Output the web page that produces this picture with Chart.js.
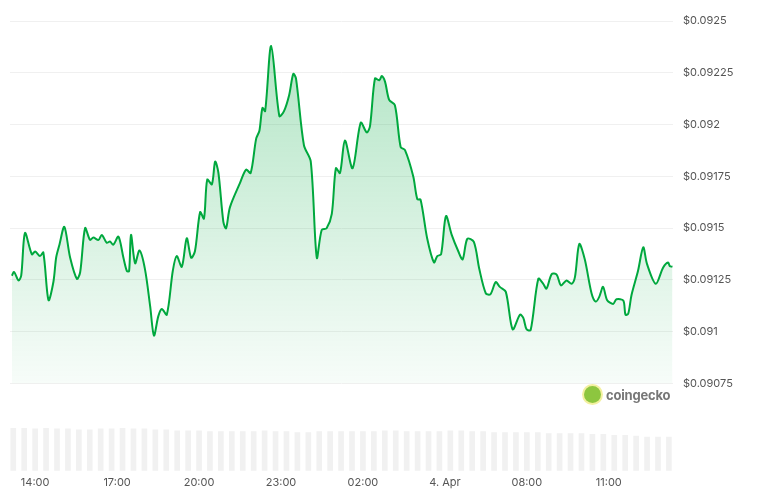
<!DOCTYPE html>
<html>
<head>
<meta charset="utf-8">
<script src="https://cdn.jsdelivr.net/npm/chart.js@4"></script>
<style>
  body { margin: 0; background: #fff; font-family: Inter, "Noto Sans", sans-serif; }
  #wrap { position: relative; width: 763px; height: 494px; }
  #price { position: absolute; left: 0; top: 0; }
  #vol { position: absolute; left: 0; top: 400px; }
  #logo { position: absolute; left: 584px; top: 386px; display: flex; align-items: center; gap: 5px; }
  #logo .dot { width: 17px; height: 17px; border-radius: 50%; background: #8dc63f; box-shadow: 0 0 0 2px #f3f0a0; }
  #logo span { font-weight: 700; font-size: 13px; color: #777; letter-spacing: -0.2px; }
</style>
</head>
<body>
<div id="wrap">
  <canvas id="price" width="763" height="400"></canvas>
  <canvas id="vol" width="763" height="94"></canvas>
  <div id="logo"><div class="dot"></div><span>coingecko</span></div>
</div>
<script>
"use strict";

// hours since 3 Apr 00:00
const hours = [13.15, 13.23, 13.39, 13.49, 13.63, 13.88, 14.0, 14.18, 14.30, 14.49, 14.67, 14.77, 14.89, 15.07, 15.28, 15.53, 15.65, 15.83, 16.01, 16.13, 16.32, 16.44, 16.62, 16.74, 16.86, 17.05, 17.23, 17.36, 17.44, 17.51, 17.66, 17.82, 18.02, 18.21, 18.35, 18.51, 18.64, 18.82, 19.04, 19.18, 19.37, 19.55, 19.71, 19.85, 20.04, 20.18, 20.30, 20.47, 20.59, 20.71, 20.89, 20.99, 21.13, 21.50, 21.72, 21.89, 22.09, 22.21, 22.32, 22.42, 22.64, 22.94, 23.11, 23.30, 23.45, 23.55, 23.84, 24.09, 24.31, 24.49, 24.67, 24.86, 25.01, 25.16, 25.34, 25.62, 25.92, 26.14, 26.26, 26.44, 26.60, 26.69, 26.81, 26.96, 27.17, 27.38, 27.54, 27.84, 27.99, 28.11, 28.35, 28.60, 28.72, 28.86, 29.04, 29.25, 29.49, 29.65, 29.82, 30.06, 30.26, 30.50, 30.67, 30.86, 31.01, 31.23, 31.48, 31.75, 31.87, 31.99, 32.14, 32.42, 32.60, 32.72, 32.91, 33.09, 33.25, 33.45, 33.64, 33.76, 33.92, 34.12, 34.37, 34.52, 34.65, 34.79, 34.94, 35.16, 35.28, 35.53, 35.61, 35.71, 35.83, 36.07, 36.26, 36.40, 36.72, 36.99, 37.17, 37.23, 37.33];

const prices = [0.09127, 0.091288, 0.091247, 0.09127, 0.091476, 0.091373, 0.091387, 0.091365, 0.091382, 0.091152, 0.091241, 0.091358, 0.09142, 0.091506, 0.091358, 0.091255, 0.091288, 0.0915, 0.091443, 0.091454, 0.091443, 0.091467, 0.091429, 0.091435, 0.09142, 0.091459, 0.091358, 0.091292, 0.091292, 0.091467, 0.09133, 0.091392, 0.091302, 0.091123, 0.090981, 0.091075, 0.091109, 0.091082, 0.091294, 0.091365, 0.091313, 0.091451, 0.091357, 0.091388, 0.091577, 0.091546, 0.091734, 0.091711, 0.091821, 0.091766, 0.09153, 0.091499, 0.0916, 0.091718, 0.091782, 0.091766, 0.091931, 0.09197, 0.09208, 0.092065, 0.092379, 0.092041, 0.092065, 0.092143, 0.092245, 0.092222, 0.0919, 0.091821, 0.091357, 0.091491, 0.091499, 0.091569, 0.091789, 0.091766, 0.091923, 0.091789, 0.092009, 0.091962, 0.091994, 0.092222, 0.092214, 0.092234, 0.092206, 0.092119, 0.092093, 0.091892, 0.091876, 0.09175, 0.09164, 0.091637, 0.091451, 0.091334, 0.091365, 0.091373, 0.091558, 0.091467, 0.091388, 0.091349, 0.091448, 0.091433, 0.091302, 0.091184, 0.091181, 0.091239, 0.091216, 0.091192, 0.091011, 0.091082, 0.091066, 0.091011, 0.091008, 0.091255, 0.091231, 0.091208, 0.091278, 0.091275, 0.091223, 0.091247, 0.091231, 0.091263, 0.091423, 0.091349, 0.091184, 0.091145, 0.091168, 0.091216, 0.091152, 0.091134, 0.091156, 0.09115, 0.091082, 0.091086, 0.091176, 0.091294, 0.091407, 0.091326, 0.091231, 0.09131, 0.091334, 0.091317, 0.091313];

const volHours = [13.2, 13.6, 14.0, 14.4, 14.8, 15.2, 15.6, 16.0, 16.4, 16.8, 17.2, 17.6, 18.0, 18.4, 18.8, 19.2, 19.6, 20.0, 20.4, 20.8, 21.2, 21.6, 22.0, 22.4, 22.8, 23.2, 23.6, 24.0, 24.4, 24.8, 25.2, 25.6, 26.0, 26.4, 26.8, 27.2, 27.6, 28.0, 28.4, 28.8, 29.2, 29.6, 30.0, 30.4, 30.8, 31.2, 31.6, 32.0, 32.4, 32.8, 33.2, 33.6, 34.0, 34.4, 34.8, 35.2, 35.6, 36.0, 36.4, 36.8, 37.2];
const volumes = [47, 47, 46, 47, 46, 46, 45, 45, 46, 46, 47, 46, 46, 45, 45, 44, 44, 44, 43, 43, 43, 43, 43, 44, 43, 43, 42, 42, 43, 43, 43, 43, 43, 43, 44, 44, 43, 43, 43, 43, 44, 44, 43, 43, 42, 42, 42, 42, 42, 41, 41, 41, 41, 40, 40, 39, 39, 38, 37, 37, 37];

const xTicks = [14, 17, 20, 23, 26, 29, 32, 35];
const xLabels = ['14:00', '17:00', '20:00', '23:00', '02:00', '4. Apr', '08:00', '11:00'];
const yTicks = [0.09075, 0.091, 0.09125, 0.0915, 0.09175, 0.092, 0.09225, 0.0925];

const X_MIN = 13.08, X_MAX = 37.35;
const GREEN = 'rgb(0, 168, 62)';
const tickFont = { family: 'Inter', size: 11 };

function xScale(showTicks) {
  return {
    type: 'linear', min: X_MIN, max: X_MAX, offset: false,
    display: showTicks,
    grid: { display: false, drawTicks: false },
    border: { display: false },
    afterBuildTicks: (s) => { s.ticks = xTicks.map(v => ({ value: v })); },
    ticks: {
      color: '#555', font: tickFont, maxRotation: 0, padding: 5,
      callback: (v) => xLabels[xTicks.indexOf(v)]
    }
  };
}

new Chart(document.getElementById('price'), {
  type: 'line',
  data: {
    datasets: [{
      data: hours.map((h, i) => ({ x: h, y: prices[i] })),
      borderColor: GREEN,
      borderWidth: 2,
      pointRadius: 0,
      tension: 0.3,
      fill: 'start',
      backgroundColor: (ctx) => {
        const area = ctx.chart.chartArea;
        if (!area) return 'rgba(0,168,62,0.1)';
        const g = ctx.chart.ctx.createLinearGradient(0, 40, 0, area.bottom);
        g.addColorStop(0, 'rgba(0,168,62,0.3)');
        g.addColorStop(1, 'rgba(0,168,62,0.03)');
        return g;
      }
    }]
  },
  options: {
    responsive: false,
    animation: false,
    layout: { padding: { left: 10, top: 21, bottom: 8 } },
    plugins: { legend: { display: false }, tooltip: { enabled: false } },
    scales: {
      x: xScale(false),
      y: {
        position: 'right', min: 0.09075, max: 0.0925,
        afterFit: (s) => { s.width = 90; },
        afterBuildTicks: (s) => { s.ticks = yTicks.map(v => ({ value: v })); },
        grid: { color: '#f0f0f0', drawTicks: false },
        border: { display: false },
        ticks: {
          color: '#555', font: tickFont, padding: 10,
          callback: (v) => '$' + Number(v.toFixed(5))
        }
      }
    }
  }
});

new Chart(document.getElementById('vol'), {
  type: 'bar',
  data: {
    datasets: [{
      data: volHours.map((h, i) => ({ x: h, y: volumes[i] })),
      backgroundColor: '#f1f1f1',
      barThickness: 5
    }]
  },
  options: {
    responsive: false,
    animation: false,
    layout: { padding: { left: 10, top: 28, right: 90 } },
    plugins: { legend: { display: false }, tooltip: { enabled: false } },
    scales: {
      x: xScale(true),
      y: { display: false, min: 0, max: 47 }
    }
  }
});
</script>
</body>
</html>
